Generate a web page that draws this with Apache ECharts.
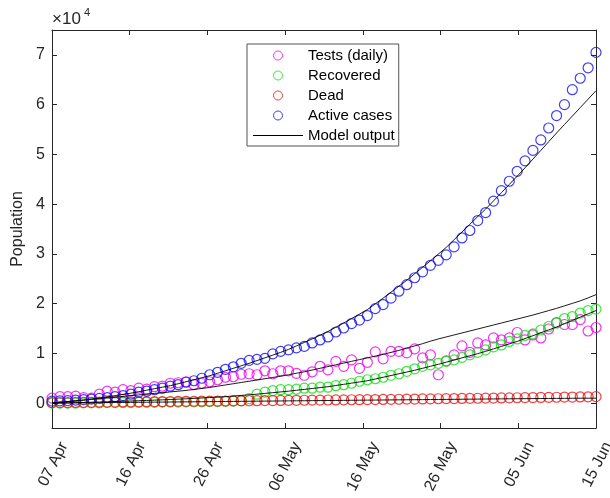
<!DOCTYPE html>
<html>
<head>
<meta charset="utf-8">
<script src="https://cdn.jsdelivr.net/npm/echarts@6/dist/echarts.min.js"></script>
<style>
html,body{margin:0;padding:0;background:#fff;}
#chart{width:610px;height:498px;}
</style>
</head>
<body>
<div id="chart"></div>
<script>
// Day index from 07 Apr (0) to 15 Jun (69)
var days = [0,1,2,3,4,5,6,7,8,9,10,11,12,13,14,15,16,17,18,19,20,21,22,23,24,25,26,27,28,29,30,31,32,33,34,35,36,37,38,39,40,41,42,43,44,45,46,47,48,49,50,51,52,53,54,55,56,57,58,59,60,61,62,63,64,65,66,67,68,69];
var xTickLabels = ['07 Apr','16 Apr','26 Apr','06 May','16 May','26 May','05 Jun','15 Jun'];
var yTickLabels = ['0','1','2','3','4','5','6','7'];
var seriesNames = ['Tests (daily)','Recovered','Dead','Active cases','Model output'];

var tests = [1000,1300,1300,1400,1100,1000,1800,2400,2200,2700,
  2500,3000,2800,3300,3400,4000,4100,4300,3700,4000,
  4300,4700,5200,5300,5800,5900,5700,6500,5900,6500,
  6500,6000,5600,6300,7400,6700,8400,7400,8700,7000,
  8200,10300,8900,10400,10400,10100,10900,9100,9700,5700,
  8500,9700,11500,10200,12100,11700,13100,12700,13100,14200,
  12700,13700,13100,14900,16200,15800,15800,16800,14500,15200];
var recovered = [0,0,0,0,50,50,50,100,100,100,
  100,150,150,150,200,200,200,250,250,250,
  300,300,350,400,500,900,1800,2200,2500,2700,
  2700,2800,3000,3000,3200,3200,3500,3700,4000,4400,
  4700,4900,5200,5600,5900,6400,6900,7400,7700,8000,
  8400,8700,9200,9700,10200,10700,11300,11700,12400,12900,
  13600,13900,14700,15400,16100,17000,17400,18100,18600,18900];
var dead = [100,100,120,140,150,170,190,200,220,240,
  250,270,290,300,320,330,350,360,380,390,
  400,420,430,450,460,480,490,510,520,540,
  550,570,580,600,610,630,640,660,680,690,
  700,720,740,760,780,800,820,840,860,880,
  900,920,940,960,980,1000,1020,1040,1060,1080,
  1100,1120,1140,1160,1180,1200,1220,1240,1270,1300];
var active = [400,450,500,600,700,800,950,1100,1300,1500,
  1800,2200,2400,2700,3000,3400,3700,4200,4500,5000,
  5700,6200,6800,7300,8000,8600,8800,9000,9900,10400,
  10700,11100,11400,12100,12700,13300,14300,15100,16000,16700,
  17600,19000,19800,21100,22500,23800,25200,26400,27700,28700,
  29800,31400,33200,34700,36700,38300,40600,42700,44600,46600,
  48700,50800,52900,55300,57800,60000,63000,65300,67400,70500];

var modelActive = [0,150,300,450,620,800,1020,1250,1500,1750,
  2000,2300,2600,2900,3200,3500,3900,4300,4700,5100,
  5500,6000,6500,7000,7500,8000,8550,9100,9650,10200,
  10800,11500,12200,12900,13650,14400,15250,16100,17000,17900,
  18800,19950,21100,22300,23500,24700,26000,27300,28600,29950,
  31300,32850,34400,35950,37500,39000,40650,42300,43950,45600,
  47300,49050,50800,52550,54300,56000,57700,59400,61100,62800];
var modelTests = [0,150,300,450,600,750,900,1050,1200,1350,
  1500,1650,1800,1950,2100,2250,2400,2550,2750,2950,
  3150,3400,3650,3900,4150,4400,4650,4900,5150,5400,
  5700,6000,6300,6650,7000,7350,7700,8050,8400,8750,
  9100,9450,9800,10200,10600,11050,11500,11950,12450,12900,
  13300,13700,14100,14500,14900,15300,15700,16100,16500,16900,
  17300,17700,18150,18600,19050,19550,20050,20550,21150,21800];
var modelRecovered = [0,30,60,100,140,180,220,270,320,370,
  420,480,540,600,660,730,800,870,950,1030,
  1120,1210,1300,1420,1550,1670,1800,1950,2100,2250,
  2400,2580,2760,2940,3120,3300,3540,3780,4020,4260,
  4500,4850,5200,5550,5900,6250,6600,7000,7400,7800,
  8230,8660,9090,9520,9950,10400,10900,11400,11900,12400,
  12980,13560,14140,14720,15300,15960,16620,17280,17940,18600];
var modelDead = [0,15,30,45,60,75,90,105,120,135,
  150,165,180,195,210,225,240,255,270,285,
  300,315,330,345,360,375,390,405,420,435,
  450,465,480,495,510,525,540,555,570,585,
  600,615,630,645,660,675,690,705,720,735,
  750,765,780,795,810,825,840,855,870,885,
  900,912,924,936,948,960,972,984,992,1000];

var colTests = '#f000f0', colRec = '#10e010', colDead = '#f01010', colAct = '#1010f0';
var axisCol = '#262626';
var FONT = '"Liberation Sans", Arial, sans-serif';
var xInterval = 69 / 7;

function pairs(vals){ return days.map(function(d,i){ return [d, vals[i]]; }); }
function scatter(name, vals, col){
  return {name:name, type:'scatter', xAxisIndex:0, yAxisIndex:0, data:pairs(vals),
    symbol:'circle', symbolSize:10, silent:true,
    itemStyle:{color:'rgba(0,0,0,0)', borderColor:col, borderWidth:1.2}};
}
function model(vals){
  return {name:'Model output', type:'line', xAxisIndex:0, yAxisIndex:0, data:pairs(vals),
    symbol:'none', showSymbol:false, silent:true, z:5,
    lineStyle:{color:'#000', width:0.9}, itemStyle:{color:'#000'}};
}

var chart = echarts.init(document.getElementById('chart'), null, {renderer:'canvas'});
var xBase = {type:'value', min:0, max:69, interval:xInterval, splitLine:{show:false},
  axisLine:{show:true, onZero:false, lineStyle:{color:axisCol, width:1}},
  axisTick:{show:true, inside:true, length:5, lineStyle:{color:axisCol}}};
var yBase = {type:'value', min:-5000, max:75000, splitNumber:8, minInterval:10000, maxInterval:10000,
  splitLine:{show:false},
  axisLine:{show:true, onZero:false, lineStyle:{color:axisCol, width:1}},
  axisTick:{show:true, inside:true, length:5, lineStyle:{color:axisCol}}};

var option = {
  animation:false,
  textStyle:{fontFamily:FONT},
  grid:{left:52, right:14, top:30, bottom:70, containLabel:false, outerBoundsMode:'none'},
  xAxis:[
    Object.assign({}, xBase, {position:'bottom',
      axisLabel:{rotate:63, fontSize:16, color:axisCol, fontFamily:FONT, margin:9,
        verticalAlign:'top', lineHeight:27, hideOverlap:false,
        formatter:function(v){ var i = Math.round(v / xInterval); return xTickLabels[i] || ''; }}}),
    Object.assign({}, xBase, {position:'top', axisLabel:{show:false}})
  ],
  yAxis:[
    Object.assign({}, yBase, {position:'left',
      name:'Population', nameLocation:'middle', nameGap:26,
      nameTextStyle:{fontSize:16, color:axisCol, fontFamily:FONT},
      axisLabel:{fontSize:16, color:axisCol, fontFamily:FONT, margin:7,
        formatter:function(v){ if (v % 10000 !== 0) return ''; var i = v / 10000; return yTickLabels[i] !== undefined ? yTickLabels[i] : ''; }}}),
    Object.assign({}, yBase, {position:'right', axisLabel:{show:false}})
  ],
  legend:{orient:'vertical', left:247, top:44, itemWidth:50, itemHeight:9, itemGap:5,
    padding:[4,4,3,6], borderColor:'#555', borderWidth:1, backgroundColor:'#fff',
    selectedMode:false,
    textStyle:{fontSize:15, color:'#000', fontFamily:FONT},
    data:[
      {name:seriesNames[0], icon:'circle', itemStyle:{color:'rgba(0,0,0,0)', borderColor:colTests, borderWidth:1}},
      {name:seriesNames[1], icon:'circle', itemStyle:{color:'rgba(0,0,0,0)', borderColor:colRec, borderWidth:1}},
      {name:seriesNames[2], icon:'circle', itemStyle:{color:'rgba(0,0,0,0)', borderColor:colDead, borderWidth:1}},
      {name:seriesNames[3], icon:'circle', itemStyle:{color:'rgba(0,0,0,0)', borderColor:colAct, borderWidth:1}},
      {name:seriesNames[4], icon:'path://M0,0L50,0L50,1L0,1Z', itemStyle:{color:'#000', borderWidth:0}}
    ]},
  graphic:[
    {type:'text', left:52, top:11, style:{text:'\u00d710', font:'17px ' + FONT, fill:axisCol}},
    {type:'text', left:84, top:7, style:{text:'4', font:'11px ' + FONT, fill:axisCol}}
  ],
  series:[
    scatter(seriesNames[0], tests, colTests),
    scatter(seriesNames[1], recovered, colRec),
    scatter(seriesNames[2], dead, colDead),
    scatter(seriesNames[3], active, colAct),
    model(modelActive),
    model(modelTests),
    model(modelRecovered),
    model(modelDead)
  ]
};
chart.setOption(option);
</script>
</body>
</html>
